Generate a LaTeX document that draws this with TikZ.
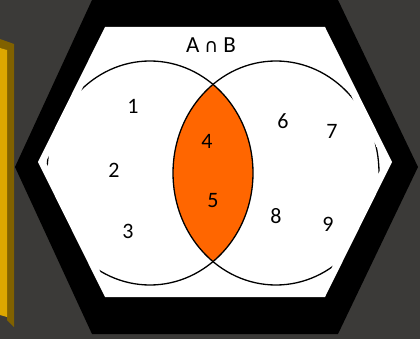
\documentclass[tikz,border=0pt]{standalone}
\usepackage{fontspec}
\setmainfont{Carlito}
\newfontfamily\symfont{DejaVu Sans}
\definecolor{bggray}{RGB}{59,58,56}
\definecolor{baryellow}{RGB}{220,167,0}
\definecolor{bardark}{RGB}{128,97,0}
\definecolor{lensorange}{RGB}{255,102,0}
\tikzset{
  num/.style={font=\fontsize{22}{22}\selectfont, inner sep=0pt},
  circ/.style={line width=1.3pt, draw=black},
}
\begin{document}
\begin{tikzpicture}[x=1pt,y=-1pt]
\useasboundingbox (0,0) rectangle (420,339);
\fill[bggray] (0,0) rectangle (420,339);
% gold bar
\fill[bardark] (0,39) -- (14,44) -- (14,327) -- (7,320) -- (7,50) -- (0,48) -- cycle;
\fill[baryellow] (0,48) -- (7,50) -- (7,317) -- (0,315) -- cycle;
% hexagon frame
\fill[black] (92,0) -- (338,0) -- (418,167) -- (338,334) -- (92,334) -- (15,167) -- cycle;
\fill[white] (105,27) -- (325,27) -- (392,162) -- (325,297) -- (105,297) -- (38,162) -- cycle;
% lens
\begin{scope}
  \clip (150,173) ellipse [x radius=103, y radius=112];
  \fill[lensorange] (276,173) ellipse [x radius=103, y radius=112];
\end{scope}
% circles
\begin{scope}
  \clip (113,27) -- (317,27) -- (384,162) -- (317,297) -- (113,297) -- (46,162) -- cycle;
  \draw[circ] (150,173) ellipse [x radius=103, y radius=112];
  \draw[circ] (276,173) ellipse [x radius=103, y radius=112];
\end{scope}
% title
\node[font=\fontsize{23}{23}\selectfont, inner sep=0pt] (title) at (211,45) {A\hspace{5pt}{\symfont\fontsize{19}{19}\selectfont ∩}\hspace{5pt}B};
% numbers
\node[num] (n1) at (133,106) {1};
\node[num] (n2) at (114,170) {2};
\node[num] (n3) at (128,231) {3};
\node[num] (n4) at (207,141) {4};
\node[num] (n5) at (213,201) {5};
\node[num] (n6) at (283,121) {6};
\node[num] (n7) at (332,131) {7};
\node[num] (n8) at (276,216) {8};
\node[num] (n9) at (328,224) {9};
\end{tikzpicture}
\end{document}
